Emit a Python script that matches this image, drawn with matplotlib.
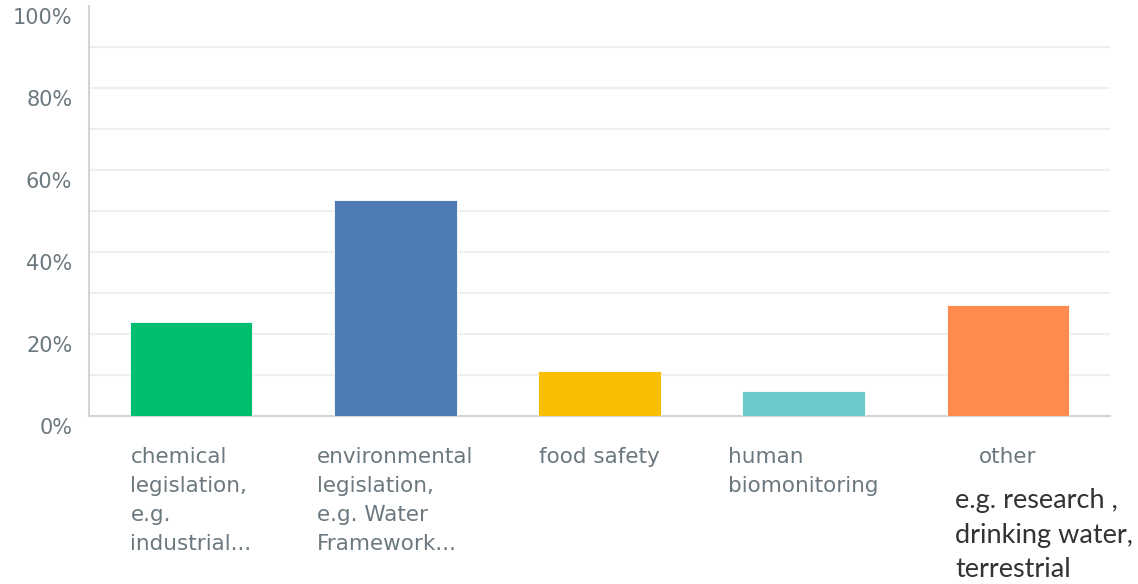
import numpy as np
import matplotlib.pyplot as plt
from matplotlib.transforms import ScaledTranslation

# survey answers, share of respondents
categories = ["chemical\nlegislation,\ne.g.\nindustrial...",
              "environmental\nlegislation,\ne.g. Water\nFramework...",
              "food safety",
              "human\nbiomonitoring",
              "other"]
shares = [22.9, 52.6, 11.0, 6.0, 27.1]
colors = ["#00BF6F", "#507CB6", "#F9BE00", "#6BC8CD", "#FF8B4F"]
yticks = [0, 20, 40, 60, 80, 100]
ytick_labels = ["0%", "20%", "40%", "60%", "80%", "100%"]
note = "e.g. research ,\ndrinking water,\nterrestrial"

grey = "#6B787F"

fig = plt.figure(figsize=(11.38, 5.84), dpi=100)
ax = fig.add_axes([89 / 1138, 1 - 416 / 584, (1110 - 89) / 1138, 410 / 584])

x = np.arange(len(categories))
ax.bar(x, shares, width=0.6, color=colors, edgecolor="white", linewidth=0.6, zorder=3)

ax.set_xlim(-0.5, len(categories) - 0.5)
ax.set_ylim(0, 100)

# light gridlines every 10%
ax.set_yticks(yticks)
ax.set_yticks(np.arange(10, 100, 10), minor=True)
ax.yaxis.grid(True, which="both", color="#EFEFEF", linewidth=1.5, zorder=0)
ax.set_yticklabels(ytick_labels, fontsize=15, color=grey)
ax.tick_params(axis="y", which="both", length=0, pad=12)
offset = ScaledTranslation(0, -10 / 100, fig.dpi_scale_trans)
for lab in ax.get_yticklabels():
    lab.set_transform(lab.get_transform() + offset)

ax.set_xticks(x)
ax.set_xticklabels(categories, fontsize=15.5, color=grey, linespacing=1.57,
                   multialignment="left", va="top")
ax.tick_params(axis="x", length=0, pad=22)

for side in ["top", "right"]:
    ax.spines[side].set_visible(False)
ax.spines["left"].set_color("#D3D3D3")
ax.spines["bottom"].set_color("#D3D3D3")
ax.spines["left"].set_linewidth(1.5)
ax.spines["bottom"].set_linewidth(1.5)
# hide the topmost gridline at 100%
ax.yaxis.get_gridlines()[-1].set_visible(False)

fig.text(955 / 1138, 1 - 488 / 584, note, fontsize=19.5, color="#333333",
         family="Lato", va="top", ha="left", linespacing=1.48)

fig.savefig("out.png", dpi=100)
